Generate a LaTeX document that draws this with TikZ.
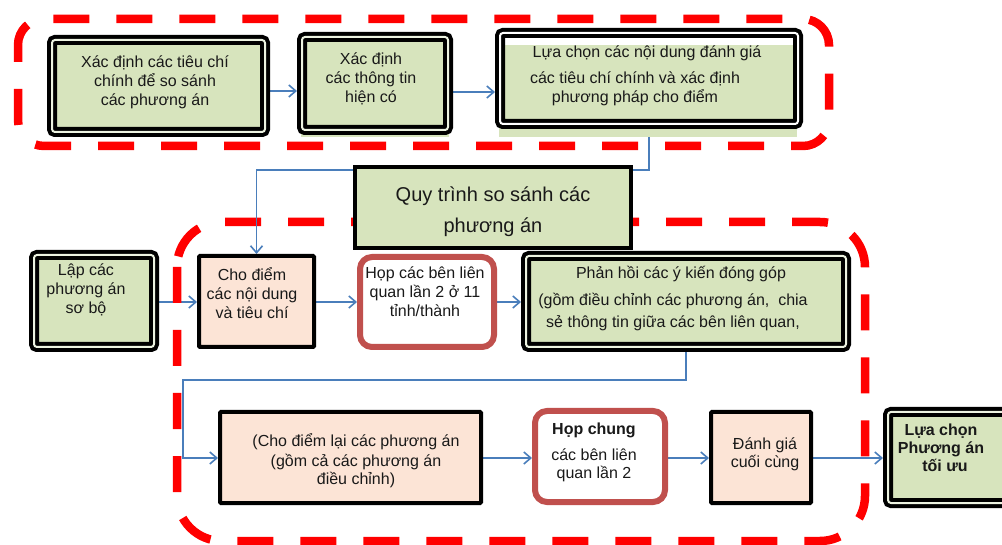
\documentclass[tikz,border=0pt]{standalone}
\usepackage{fontspec}
\setmainfont{Liberation Sans}
\usetikzlibrary{arrows.meta,calc}

\definecolor{boxgreen}{HTML}{D7E4BD}
\definecolor{boxpeach}{HTML}{FCE4D6}
\definecolor{meetred}{HTML}{C0504D}
\definecolor{flowblue}{HTML}{4A7EBB}
\definecolor{zonered}{HTML}{FF0000}

\tikzset{
  dblbox/.style={draw=black, line width=4pt, double=boxgreen!45!white, double distance=2pt,
    rounded corners=3pt, fill=boxgreen, outer sep=5pt, inner sep=0pt},
  plainbox/.style={draw=black, line width=4pt, fill=boxpeach, rounded corners=1pt,
    outer sep=2pt, inner sep=0pt},
  meetbox/.style={draw=meetred, line width=6pt, fill=white, rounded corners=12pt,
    outer sep=3pt, inner sep=0pt},
  titlebox/.style={draw=black, line width=4pt, fill=boxgreen, outer sep=2pt, inner sep=0pt},
  zone/.style={draw=zonered, line width=8.5pt, dash pattern=on 36pt off 27pt},
  flow/.style={draw=flowblue, line width=1.6pt,
    -{Straight Barb[length=7pt,width=12pt]}},
  txt/.style={align=center, font=\fontsize{16}{19}\selectfont, inner sep=0pt, text=black!90},
}

\begin{document}
\begin{tikzpicture}[x=1pt,y=-1pt]
\useasboundingbox (0,0) rectangle (1002,545);
\clip (0,0) rectangle (1002,545);

% ---- box outlines used as anchors (drawn later) ----
\path
  node[dblbox, minimum width=213pt, minimum height=92pt, draw=none, fill=none, double=none] (crit) at (158.5,86) {}
  node[dblbox, minimum width=146pt, minimum height=93pt, draw=none, fill=none, double=none] (info) at (375,83.5) {}
  node[dblbox, minimum width=298pt, minimum height=91pt, draw=none, fill=none, double=none] (select) at (649,78.5) {}
  node[dblbox, minimum width=120pt, minimum height=92pt, draw=none, fill=none, double=none] (draft) at (94,301) {}
  node[plainbox, minimum width=115pt, minimum height=91pt, draw=none, fill=none] (score) at (256.5,301.5) {}
  node[meetbox, minimum width=134pt, minimum height=90pt, draw=none, fill=none] (meet) at (427,302) {}
  node[dblbox, minimum width=320pt, minimum height=91pt, draw=none, fill=none, double=none] (reply) at (686,301.5) {}
  node[plainbox, minimum width=261pt, minimum height=91pt, draw=none, fill=none] (rescore) at (350.5,457.5) {}
  node[meetbox, minimum width=130pt, minimum height=91pt, draw=none, fill=none] (joint) at (600,456.5) {}
  node[plainbox, minimum width=100pt, minimum height=91pt, draw=none, fill=none] (final) at (761,457.5) {}
  node[dblbox, minimum width=124pt, minimum height=91pt, draw=none, fill=none, double=none] (best) at (950,457.5) {};

% ---- connectors that pass under the dashed zones ----
\draw[flow] (crit.east |- 0,91) -- (info.west |- 0,91);
\draw[flow] (info.east |- 0,92) -- (select.west |- 0,92);
\draw[flow] (draft.east |- 0,302) -- (score.west |- 0,302);
\draw[flow] (score.east |- 0,302) -- (meet.west |- 0,302);
\draw[flow] (meet.east |- 0,302) -- (reply.west |- 0,302);
\coordinate (loopTop) at (183,380);
\draw[flow] (reply.south) -- (reply.south |- loopTop) -- (loopTop) |- (rescore.west |- 0,458);
\draw[flow] (rescore.east |- 0,458) -- (joint.west |- 0,458);
\draw[flow] (joint.east |- 0,458) -- (final.west |- 0,458);
\draw[flow] (final.east |- 0,458) -- (best.west |- 0,458);

% ---- dashed zones ----
\draw[zone, rounded corners=26pt, dash phase=19pt] (18,19) rectangle (829,146);
\draw[zone, rounded corners=45pt] (177,222) rectangle (865,541);

% ---- connector from the selection step down to scoring ----
\draw[flow] (select.south) -- (select.south |- 0,170) -| (score.north);

% ---- green fill strips below the upper boxes ----
\fill[boxgreen] (301,120) rectangle (449,137);
\fill[boxgreen] (499,45) rectangle (797,137);

% ---- boxes ----
\node[dblbox, minimum width=213pt, minimum height=92pt] at (crit) {};
\node[dblbox, minimum width=146pt, minimum height=93pt] at (info) {};
\node[dblbox, fill=none, double=white, minimum width=298pt, minimum height=91pt] at (select) {};
\node[titlebox, minimum width=276pt, minimum height=81pt] (proc) at (493,207.5) {};
\node[dblbox, minimum width=120pt, minimum height=92pt] at (draft) {};
\node[plainbox, minimum width=115pt, minimum height=91pt] at (score) {};
\node[meetbox, minimum width=134pt, minimum height=90pt] at (meet) {};
\node[dblbox, minimum width=320pt, minimum height=91pt] at (reply) {};
\node[plainbox, minimum width=261pt, minimum height=91pt] at (rescore) {};
\node[meetbox, minimum width=130pt, minimum height=91pt] at (joint) {};
\node[plainbox, minimum width=100pt, minimum height=91pt] at (final) {};
\node[dblbox, minimum width=124pt, minimum height=91pt] at (best) {};

% ---- texts ----
\node[txt] (critT) at (155,82) {Xác định các tiêu chí\\chính để so sánh\\các phương án};
\node[txt] (infoT) at (371,79) {Xác định\\các thông tin\\hiện có};
\node[txt] (selectT) at (635,76) {\hspace*{24pt}Lựa chọn các nội dung đánh giá\\[7pt]các tiêu chí chính và xác định\\phương pháp cho điểm};
\node[txt, font=\fontsize{20}{31}\selectfont] (procT) at (493,212) {Quy trình so sánh các\\phương án};
\node[txt] (draftT) at (86,290) {Lập các\\phương án\\sơ bộ};
\node[txt] (scoreT) at (252,293) {Cho điểm\\các nội dung\\và tiêu chí};
\node[txt] (meetT) at (425,292) {Họp các bên liên\\quan lần 2 ở 11\\tỉnh/thành};
\node[txt] (replyT) at (673,299) {\hspace*{16pt}Phản hồi các ý kiến đóng góp\\[8pt](gồm điều chỉnh các phương án,~~chia\\[3pt]sẻ thông tin giữa các bên liên quan,};
\node[txt] (rescoreT) at (356,461) {(Cho điểm lại các phương án\\[1pt](gồm cả các phương án\\[-1pt]điều chỉnh)};
\node[txt] (jointT) at (594,452) {\textbf{Họp chung}\\[7pt]các bên liên\\[-1pt]quan lần 2};
\node[txt] (finalT) at (765,454) {Đánh giá\\[-1pt]cuối cùng};
\node[txt, font=\bfseries\fontsize{16}{18}\selectfont] (bestT) at (941,448) {Lựa chọn\\Phương án\\\hspace*{8pt}tối ưu};
\end{tikzpicture}
\end{document}
